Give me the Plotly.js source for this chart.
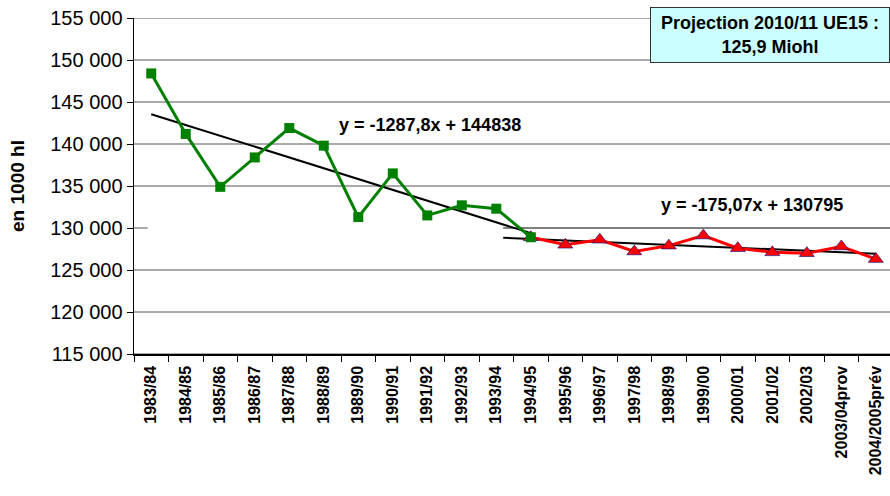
<!DOCTYPE html>
<html>
<head>
<meta charset="utf-8">
<script src="https://cdn.plot.ly/plotly-3.0.1.min.js"></script>
<style>html,body{margin:0;padding:0;background:#fff;}#chart{width:890px;height:496px;}</style>
</head>
<body>
<div id="chart"></div>
<script>
// Categories (campaigns)
const categories = ["1983/84","1984/85","1985/86","1986/87","1987/88","1988/89","1989/90","1990/91","1991/92","1992/93","1993/94","1994/95","1995/96","1996/97","1997/98","1998/99","1999/00","2000/01","2001/02","2002/03","2003/04prov","2004/2005prév"];
// Series 1 (green, 1983/84 - 1994/95), thousand hl
const greenValues = [148400, 141200, 134900, 138400, 141900, 139800, 131300, 136500, 131500, 132700, 132300, 128900];
// Series 2 (red, 1994/95 - 2004/2005prév), thousand hl
const redStart = 11;
const redValues = [128900, 128000, 128600, 127200, 127900, 129100, 127600, 127100, 127000, 127800, 126300];
// Trend equations (x = category number, 1-based)
const trend1 = {slope: -1287.8, intercept: 144838, xFrom: 1, xTo: 12, label: "y = -1287,8x + 144838"};
const trend2 = {slope: -175.07, intercept: 130795, xFrom: 11.2, xTo: 22, label: "y = -175,07x + 130795"};
const yTicks = [115000, 120000, 125000, 130000, 135000, 140000, 145000, 150000, 155000];
const boxText = "Projection 2010/11 UE15 :<br>125,9 Miohl";

const idx = categories.map((c, i) => i);
function trendTrace(t) {
  const xs = [t.xFrom, t.xTo];
  return {
    x: xs.map(v => v - 1),
    y: xs.map(v => t.slope * v + t.intercept),
    mode: 'lines', line: {color: '#000', width: 2}, hoverinfo: 'skip', showlegend: false
  };
}
const traces = [
  trendTrace(trend1),
  trendTrace(trend2),
  {
    x: redValues.map((v, i) => i + redStart), y: redValues,
    mode: 'lines+markers', line: {color: '#ff0000', width: 3},
    marker: {symbol: 'triangle-up', size: 13, color: '#ff0000', line: {color: '#000080', width: 0.6}},
    showlegend: false
  },
  {
    x: greenValues.map((v, i) => i), y: greenValues,
    mode: 'lines+markers', line: {color: '#008000', width: 3},
    marker: {symbol: 'square', size: 10, color: '#008000'},
    showlegend: false
  }
];
const halfTicks = [];
for (let i = 0; i <= categories.length; i++) halfTicks.push(i - 0.5);
const font = 'Liberation Sans, Arial, sans-serif';
const gridVals = yTicks.filter(v => v !== 130000);
const shapes = gridVals.map(v => ({type: 'line', xref: 'paper', x0: 0, x1: 1, yref: 'y', y0: v, y1: v, line: {color: '#555', width: 1}, layer: 'below'}));
shapes.push({type: 'line', xref: 'paper', x0: 0, x1: 0.018, yref: 'y', y0: 130000, y1: 130000, line: {color: '#555', width: 1}, layer: 'below'});
shapes.push({type: 'line', xref: 'x', x0: trend2.xFrom - 1, x1: 21.41, yref: 'y', y0: 130000, y1: 130000, line: {color: '#000', width: 1}, layer: 'below'});

const layout = {
  width: 890, height: 496,
  margin: {l: 134, r: 0, t: 18, b: 142},
  paper_bgcolor: '#fff', plot_bgcolor: '#fff',
  separators: ', ',
  font: {family: font, color: '#000'},
  showlegend: false,
  xaxis: {
    type: 'linear', range: [-0.5, 21.41],
    tickmode: 'array', tickvals: idx, ticktext: categories,
    tickangle: -90, ticks: '', showgrid: false, zeroline: false,
    showline: true, linecolor: '#000', linewidth: 1.5,
    tickfont: {family: font, size: 16, weight: 'bold', color: '#000'},
    ticklabelstandoff: 4,
    minor: {tickmode: 'array', tickvals: halfTicks, ticks: 'outside', ticklen: 6, tickcolor: '#000', tickwidth: 1, showgrid: false}
  },
  yaxis: {
    range: [115000, 155000], tickmode: 'array', tickvals: yTicks,
    tickformat: ',d', ticks: 'outside', ticklen: 6, tickcolor: '#000',
    showgrid: false, zeroline: false,
    showline: true, linecolor: '#000', linewidth: 1.5,
    tickfont: {family: font, size: 20, color: '#000'},
    title: {text: 'en 1000 hl', font: {family: font, size: 19, weight: 'bold', color: '#000'}, standoff: 20}
  },
  shapes: shapes,
  annotations: [
    {xref: 'x', yref: 'y', x: 8.08, y: 142230, text: trend1.label, showarrow: false, font: {family: font, size: 18, weight: 'bold', color: '#000'}},
    {xref: 'x', yref: 'y', x: 17.41, y: 132690, text: trend2.label, showarrow: false, font: {family: font, size: 18, weight: 'bold', color: '#000'}},
    {xref: 'paper', yref: 'paper', x: 0.683, xanchor: 'left', y: 1.033, yanchor: 'top', text: boxText, showarrow: false,
     bgcolor: '#ccffff', bordercolor: '#333', borderwidth: 1, width: 236, height: 52, align: 'center',
     font: {family: font, size: 18, weight: 'bold', color: '#000'}}
  ]
};
Plotly.newPlot('chart', traces, layout, {displayModeBar: false, staticPlot: true});
</script>
</body>
</html>
